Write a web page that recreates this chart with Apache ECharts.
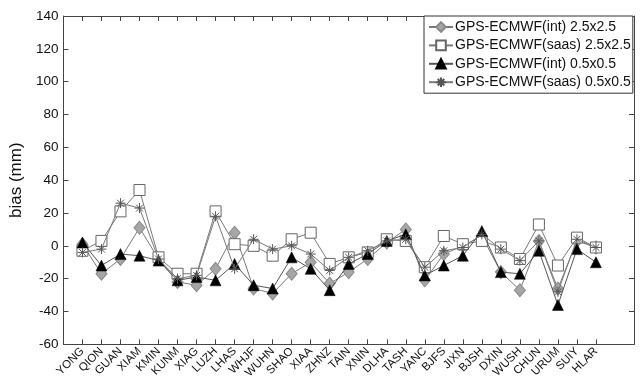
<!DOCTYPE html>
<html>
<head>
<meta charset="utf-8">
<script src="https://cdn.jsdelivr.net/npm/echarts@6/dist/echarts.min.js"></script>
<style>html,body{margin:0;padding:0;background:#fff}#c{width:641px;height:381px}</style>
</head>
<body>
<div id="c"></div>
<script>
var categories = ['YONG','QION','GUAN','XIAM','KMIN','KUNM','XIAG','LUZH','LHAS','WHJF','WUHN','SHAO','XIAA','ZHNZ','TAIN','XNIN','DLHA','TASH','YANC','BJFS','JIXN','BJSH','DXIN','WUSH','CHUN','URUM','SUIY','HLAR'];
var intCoarse  = [1, -17, -8, 11, -8, -22, -24, -14, 8, -26, -29, -17, -10, -23, -16, -8, 2, 10, -21, -5, 0, 6, -16, -27, 3, -26, 3, -1];
var saasCoarse = [-3, 3, 21, 34, -7, -17, -17, 21, 1, 0, -6, 4, 8, -11, -7, -4, 4, 3, -13, 6, 1, 3, -1, -8, 13, -12, 5, -1];
var intFine    = [2, -12, -5, -6, -9, -21, -19, -21, -11, -24, -26, -7, -14, -27, -11, -5, 3, 7, -18, -12, -6, 9, -16, -17, -3, -36, -2, -10];
var saasFine   = [-4, -2, 26, 23, -8, -20, -18, 18, -14, 4, -2, 0, -5, -15, -7, -3, 3, 4, -13, -3, -1, 7, -2, -9, 3, -28, 4, -1];
var seriesNames = ['GPS-ECMWF(int) 2.5x2.5','GPS-ECMWF(saas) 2.5x2.5','GPS-ECMWF(int) 0.5x0.5','GPS-ECMWF(saas) 0.5x0.5'];
var yTicks = {min: -60, max: 140, interval: 20};

// axis slots: one empty slot before, two after (axis spans 0..30)
var axisData = [''].concat(categories, ['', '']);
function pad(arr){ return [null].concat(arr, [null, null]); }

var font = 'Liberation Sans, Arial, sans-serif';
var chart = echarts.init(document.getElementById('c'));
var lineColor = '#7a7a7a';
var star = 'path://M0,5L10,5M5,0L5,10M1.6,1.6L8.4,8.4M8.4,1.6L1.6,8.4';

chart.setOption({
  animation: false,
  backgroundColor: '#fff',
  textStyle: {fontFamily: font},
  grid: {left: 58, right: 7, top: 16, bottom: 36, containLabel: false},
  legend: {
    orient: 'vertical', left: 424, top: 16,
    padding: [4, 2, 4, 4], itemGap: 4.4, itemWidth: 24, itemHeight: 12,
    backgroundColor: '#fff', borderColor: '#333', borderWidth: 1,
    textStyle: {fontFamily: font, fontSize: 14, color: '#111', padding: [0, 0, 0, -3]},
    data: seriesNames
  },
  xAxis: [{
    type: 'category', data: axisData, boundaryGap: false, position: 'bottom',
    axisLine: {onZero: false, lineStyle: {color: '#444', width: 1}},
    axisTick: {inside: true, length: 5, lineStyle: {color: '#444'},
      interval: function(i, v){ return v !== ''; }},
    axisLabel: {interval: 0, rotate: 45, fontSize: 11.5, color: '#111', margin: 5, fontFamily: font},
    splitLine: {show: false}
  }, {
    type: 'category', data: axisData, boundaryGap: false, position: 'top',
    axisLine: {onZero: false, lineStyle: {color: '#444', width: 1}},
    axisTick: {inside: true, length: 5, lineStyle: {color: '#444'},
      interval: function(i, v){ return v !== ''; }},
    axisLabel: {show: false}, splitLine: {show: false}
  }],
  yAxis: [{
    type: 'value', min: yTicks.min, max: yTicks.max, interval: yTicks.interval, position: 'left',
    name: 'bias (mm)', nameLocation: 'middle', nameGap: 31, nameRotate: 90,
    nameTextStyle: {fontSize: 17, color: '#111', fontFamily: font},
    axisLine: {show: true, onZero: false, lineStyle: {color: '#444'}},
    axisTick: {show: true, inside: true, length: 5, lineStyle: {color: '#444'}},
    axisLabel: {fontSize: 13.5, color: '#111', margin: 5, fontFamily: font},
    splitLine: {show: false}
  }, {
    type: 'value', min: yTicks.min, max: yTicks.max, interval: yTicks.interval, position: 'right',
    axisLine: {show: true, onZero: false, lineStyle: {color: '#444'}},
    axisTick: {show: true, inside: true, length: 5, lineStyle: {color: '#444'}},
    axisLabel: {show: false}, splitLine: {show: false}
  }],
  series: [{
    name: seriesNames[0], type: 'line', data: pad(intCoarse),
    symbol: 'diamond', symbolSize: [11, 13],
    itemStyle: {color: '#a6a6a6', borderColor: '#8a8a8a', borderWidth: 1},
    lineStyle: {color: lineColor, width: 1}, z: 2
  }, {
    name: seriesNames[1], type: 'line', data: pad(saasCoarse),
    symbol: 'rect', symbolSize: 11,
    itemStyle: {color: '#fff', borderColor: '#666', borderWidth: 1},
    lineStyle: {color: lineColor, width: 1}, z: 3
  }, {
    name: seriesNames[2], type: 'line', data: pad(intFine),
    symbol: 'triangle', symbolSize: [11, 11],
    itemStyle: {color: '#000', borderColor: '#000', borderWidth: 0.5},
    lineStyle: {color: '#555', width: 1}, z: 4
  }, {
    name: seriesNames[3], type: 'line', data: pad(saasFine),
    symbol: star, symbolSize: 10, symbolKeepAspect: true,
    itemStyle: {color: 'rgba(0,0,0,0)', borderColor: '#555', borderWidth: 1},
    lineStyle: {color: lineColor, width: 1}, z: 5
  }]
});
</script>
</body>
</html>
